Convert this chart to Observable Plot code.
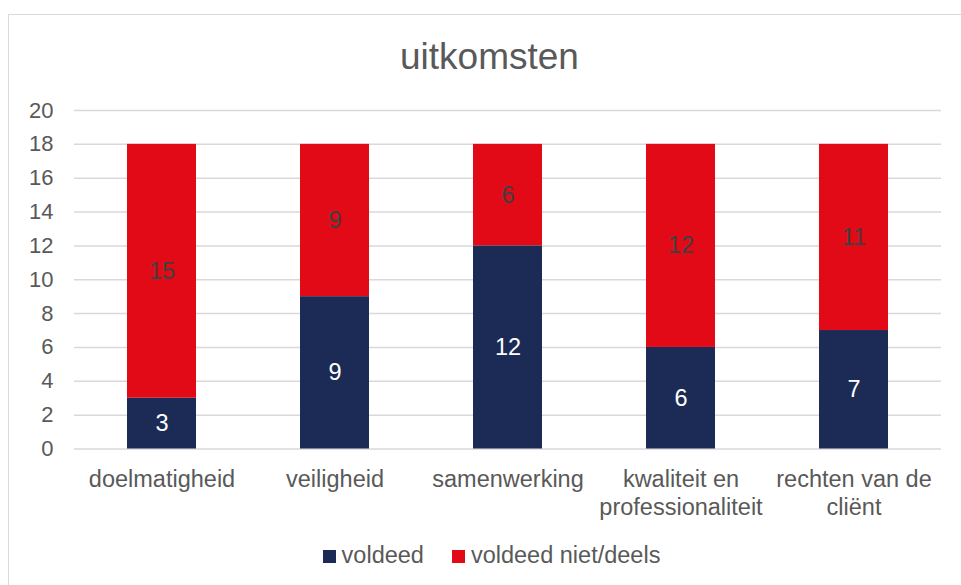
<!DOCTYPE html>
<html>
<head>
<meta charset="utf-8">
<script src="https://cdn.jsdelivr.net/npm/d3@7"></script>
<script src="https://cdn.jsdelivr.net/npm/@observablehq/plot@0.6"></script>
<style>
  html, body { margin: 0; padding: 0; background: #fff; }
  body { width: 961px; height: 585px; position: relative; overflow: hidden; font-family: "Liberation Sans", Arial, sans-serif; }
  #frame { position: absolute; left: 8px; top: 14px; width: 1000px; height: 700px; border: 1.5px solid #d9d9d9; box-sizing: border-box; }
  #title { position: absolute; left: 9px; width: 961px; top: 33px; text-align: center; font-size: 37px; color: #595959; line-height: 48px; }
  #chart { position: absolute; left: 0; top: 0; }
  #legend { position: absolute; left: 11px; width: 961px; top: 540px; display: flex; justify-content: center; font-size: 23.5px; color: #595959; line-height: 30px; }
  .item { display: flex; align-items: center; margin: 0 14px; }
  .sw { width: 13px; height: 13px; margin-right: 6px; margin-top: 2px; }
</style>
</head>
<body>
<div id="frame"></div>
<div id="chart"></div>
<div id="title">uitkomsten</div>
<div id="legend"></div>
<script>
const categories = ["doelmatigheid", "veiligheid", "samenwerking", "kwaliteit en professionaliteit", "rechten van de cliënt"];
const categoryLabels = ["doelmatigheid", "veiligheid", "samenwerking", "kwaliteit en\nprofessionaliteit", "rechten van de\ncliënt"];
const seriesNames = ["voldeed", "voldeed niet/deels"];
const voldeed = [3, 9, 12, 6, 7];
const voldeedNiet = [15, 9, 6, 12, 11];
const seriesColors = ["#1b2b55", "#e20a17"];
const labelColors = ["#ffffff", "#404040"];
const yTicks = [0, 2, 4, 6, 8, 10, 12, 14, 16, 18, 20];

const data = [];
categories.forEach((c, i) => {
  data.push({cat: c, series: seriesNames[0], value: voldeed[i]});
  data.push({cat: c, series: seriesNames[1], value: voldeedNiet[i]});
});
const labelOf = new Map(categories.map((c, i) => [c, categoryLabels[i]]));

const chart = Plot.plot({
  width: 961,
  height: 585,
  marginLeft: 74,
  marginRight: 20,
  marginTop: 110,
  marginBottom: 136.5,
  style: {fontFamily: "'Liberation Sans', Arial, sans-serif", background: "transparent"},
  x: {domain: categories, paddingInner: 0.6, paddingOuter: 0.3, label: null},
  y: {domain: [0, 20], label: null},
  color: {domain: seriesNames, range: seriesColors},
  marks: [
    Plot.ruleY(yTicks, {stroke: "#d9d9d9", strokeWidth: 1.5}),
    Plot.barY(data, {x: "cat", y: "value", fill: "series", order: seriesNames}),
    Plot.textY(data, Plot.stackY({x: "cat", y: "value", text: d => String(d.value), order: seriesNames,
      fill: d => labelColors[seriesNames.indexOf(d.series)], fontSize: 23.5})),
    Plot.axisY({ticks: yTicks, tickSize: 0, tickPadding: 21, fontSize: 22, color: "#595959", label: null}),
    Plot.axisX({tickSize: 0, tickPadding: 18.5, fontSize: 23.5, color: "#595959", lineHeight: 1.17,
      lineAnchor: "top", tickFormat: d => labelOf.get(d), label: null})
  ]
});
document.getElementById("chart").appendChild(chart);

const legend = document.getElementById("legend");
seriesNames.forEach((s, i) => {
  const it = document.createElement("div");
  it.className = "item";
  const sw = document.createElement("div");
  sw.className = "sw";
  sw.style.background = seriesColors[i];
  const t = document.createElement("span");
  t.textContent = s;
  it.appendChild(sw);
  it.appendChild(t);
  legend.appendChild(it);
});
</script>
</body>
</html>
